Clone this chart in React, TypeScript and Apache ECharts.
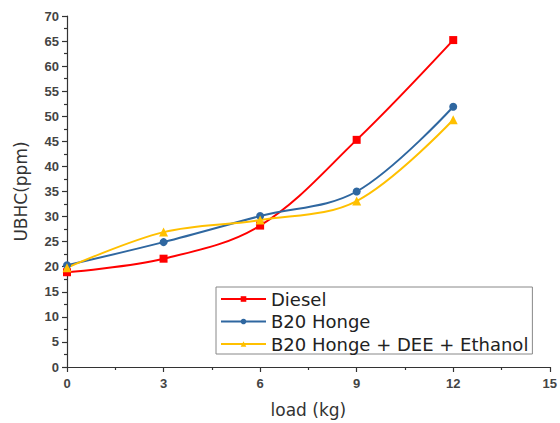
import React, { useEffect, useRef } from "react";
import * as echarts from "echarts";

const loads = [0, 3, 6, 9, 12];
const diesel = [18.9, 21.6, 28.2, 45.3, 65.2];
const b20 = [20.3, 24.9, 30.1, 35.0, 51.9];
const blend = [19.8, 26.9, 29.3, 33.1, 49.3];
const names = ["Diesel", "B20 Honge", "B20 Honge + DEE + Ethanol"];
const colors = ["#ff0000", "#2f67a0", "#ffc000"];

export default function App() {
  const ref = useRef<HTMLDivElement>(null);
  useEffect(() => {
    const chart = echarts.init(ref.current!, undefined, { renderer: "svg" });
    const mk = (d: number[]) => d.map((v, i) => [loads[i], v]);
    const axisCommon = {
      axisLine: { show: true, onZero: false, lineStyle: { color: "#333", width: 1.2 } },
      axisTick: { show: true, inside: false, length: 5, lineStyle: { color: "#333", width: 1.2 } },
      minorTick: { show: true, splitNumber: 2, length: 3, lineStyle: { color: "#333", width: 1.2 } },
      splitLine: { show: false },
      axisLabel: { color: "#444", fontFamily: "Liberation Sans, Arial", fontSize: 13, fontWeight: "bold" },
      nameTextStyle: { color: "#333", fontFamily: "DejaVu Sans", fontSize: 17 },
    };
    chart.setOption({
      animation: false,
      grid: { left: 67, top: 16, right: 7, bottom: 56, containLabel: false },
      xAxis: {
        type: "value",
        min: 0,
        max: 15,
        interval: 3,
        name: "load (kg)",
        nameLocation: "middle",
        nameGap: 34,
        ...axisCommon,
        axisLabel: { ...axisCommon.axisLabel, margin: 10 },
      },
      yAxis: {
        type: "value",
        min: 0,
        max: 70,
        interval: 5,
        name: "UBHC(ppm)",
        nameLocation: "middle",
        nameGap: 38,
        ...axisCommon,
        axisLabel: { ...axisCommon.axisLabel, margin: 8 },
      },
      legend: {
        left: 216,
        top: 287,
        orient: "vertical",
        itemGap: 4.5,
        itemWidth: 45,
        itemHeight: 7,
        borderColor: "#888",
        borderWidth: 1,
        borderRadius: 0,
        padding: [3, 4, 1, 4],
        textStyle: { color: "#222", fontFamily: "DejaVu Sans", fontSize: 18 },
        data: names,
      },
      series: [
        { name: names[0], type: "line", smooth: 0.35, data: mk(diesel), symbol: "rect", symbolSize: 8, color: colors[0], lineStyle: { width: 2 } },
        { name: names[1], type: "line", smooth: 0.35, data: mk(b20), symbol: "circle", symbolSize: 8, color: colors[1], lineStyle: { width: 2 } },
        { name: names[2], type: "line", smooth: 0.35, data: mk(blend), symbol: "triangle", symbolSize: 9, color: colors[2], lineStyle: { width: 2 } },
      ],
    });
    return () => chart.dispose();
  }, []);
  return <div ref={ref} style={{ position: "absolute", left: 0, top: 0, width: 560, height: 423, background: "#fff" }} />;
}
